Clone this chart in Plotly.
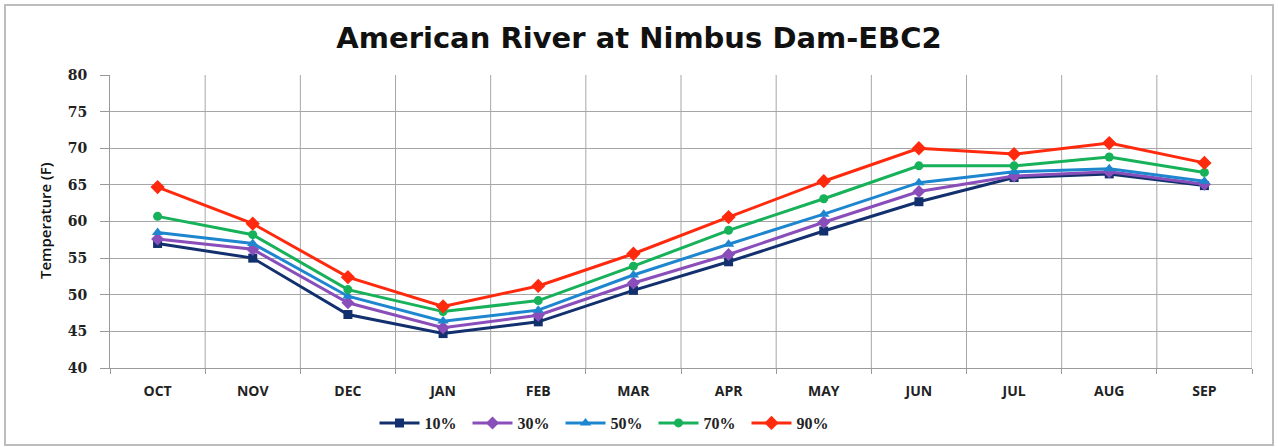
import plotly.graph_objects as go

# Monthly water temperature exceedance series (deg F)
months = ["OCT", "NOV", "DEC", "JAN", "FEB", "MAR", "APR", "MAY", "JUN", "JUL", "AUG", "SEP"]
p10 = [57.0, 55.0, 47.3, 44.7, 46.3, 50.6, 54.5, 58.7, 62.7, 66.0, 66.5, 64.9]
p30 = [57.6, 56.2, 48.9, 45.5, 47.2, 51.6, 55.5, 59.9, 64.1, 66.2, 66.8, 65.1]
p50 = [58.5, 57.0, 49.8, 46.4, 47.9, 52.7, 56.9, 61.0, 65.3, 66.8, 67.2, 65.5]
p70 = [60.7, 58.2, 50.7, 47.7, 49.2, 53.9, 58.8, 63.1, 67.6, 67.6, 68.8, 66.7]
p90 = [64.7, 59.7, 52.4, 48.4, 51.2, 55.6, 60.6, 65.5, 70.0, 69.2, 70.7, 68.0]
series_names = ["10%", "30%", "50%", "70%", "90%"]
y_ticks = [40, 45, 50, 55, 60, 65, 70, 75, 80]

series = [p10, p30, p50, p70, p90]
colors = ["#13306E", "#8A4EBB", "#1E86CF", "#16B159", "#FF2A0E"]
symbols = ["square", "diamond", "triangle-up", "circle", "diamond"]
sizes = [9, 10, 10, 9, 11]

fig = go.Figure()
for name, vals, c, s, sz in zip(series_names, series, colors, symbols, sizes):
    fig.add_trace(go.Scatter(
        x=months, y=vals, name=name, mode="lines+markers",
        line=dict(color=c, width=3),
        marker=dict(symbol=s, size=sz, color=c),
    ))

# plot area spans x 110..1252 px and y 75..368 px of the 1278x447 page
L, R, T, B = 110, 26, 75, 79
W, H = 1278, 447
pw, ph = W - L - R, H - T - B

def px_x(p):
    return (p - L) / pw

def px_y(p):
    return (H - B - p) / ph

fig.update_layout(
    width=W, height=H,
    margin=dict(l=L, r=R, t=T, b=B, autoexpand=False),
    paper_bgcolor="white", plot_bgcolor="white",
    title=dict(
        text="<b>American River at Nimbus Dam-EBC2</b>",
        font=dict(family="DejaVu Sans", size=29, color="#111111"),
        x=0.5, xanchor="center", xref="container",
        y=1 - 38 / H, yanchor="middle",
    ),
    xaxis=dict(
        type="category", range=[-0.5, 11.5], automargin=False,
        showgrid=False, showline=True, linecolor="#9A9A9A", linewidth=1,
        ticks="outside", ticklen=5, tickcolor="#9A9A9A", tickson="boundaries",
        ticklabelstandoff=10,
        tickfont=dict(family="Open Sans", size=14, color="#222222", weight="bold"),
        zeroline=False,
    ),
    yaxis=dict(
        range=[40, 80], tickvals=y_ticks, automargin=False,
        showgrid=True, gridcolor="#A6A6A6", gridwidth=1,
        showline=True, linecolor="#9A9A9A", linewidth=1,
        ticks="outside", ticklen=9, tickcolor="#9A9A9A",
        ticklabelstandoff=10,
        tickfont=dict(family="DejaVu Serif", size=14, color="#222222", weight="bold"),
        zeroline=False,
    ),
    legend=dict(
        orientation="h", x=px_x(607), xanchor="center",
        y=px_y(423), yanchor="middle",
        font=dict(family="Liberation Serif", size=16, color="#222222", weight="bold"),
        itemwidth=40, entrywidth=38, entrywidthmode="pixels",
    ),
    showlegend=True,
)

# axis title drawn as a rotated annotation
fig.add_annotation(
    text="Temperature (F)", xref="paper", yref="paper",
    x=px_x(45), y=px_y(221), xanchor="center", yanchor="middle",
    textangle=-90, showarrow=False,
    font=dict(family="Open Sans", size=15, color="#111111", weight=600),
)

# vertical grid lines at category boundaries
for i in range(1, 13):
    fig.add_shape(type="line", xref="x", yref="paper",
                  x0=i - 0.5, x1=i - 0.5, y0=0, y1=1,
                  line=dict(color="#A6A6A6", width=1), layer="below")

# outer chart frame
fig.add_shape(type="rect", xref="paper", yref="paper",
              x0=px_x(5), x1=px_x(1273), y0=px_y(445), y1=px_y(5),
              line=dict(color="#BDBDBD", width=2), fillcolor="rgba(0,0,0,0)")

fig.write_html("out.html")
